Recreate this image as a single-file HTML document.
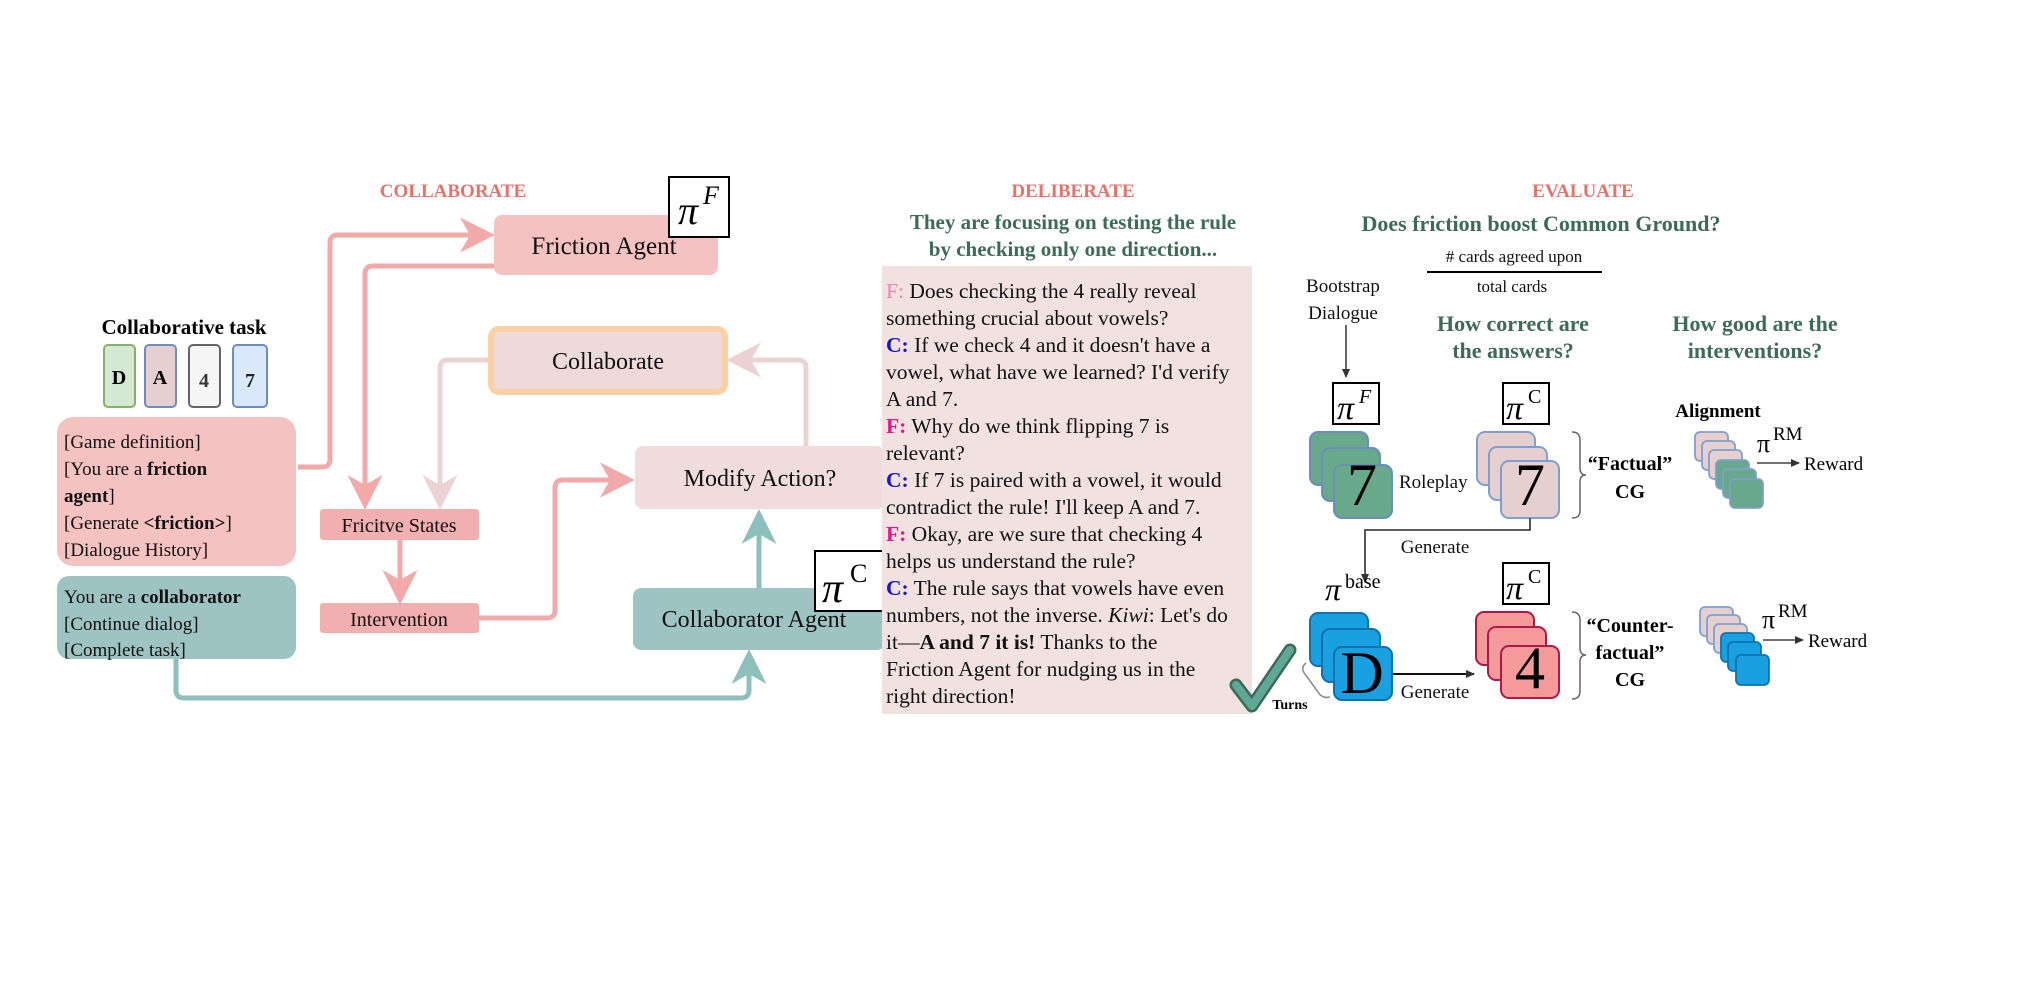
<!DOCTYPE html>
<html><head><meta charset="utf-8"><style>
html,body{margin:0;padding:0;background:#fff;}
svg{display:block;font-family:"Liberation Serif",serif;}
</style></head><body>
<svg width="2017" height="984" viewBox="0 0 2017 984" xmlns="http://www.w3.org/2000/svg">
<defs>
<marker id="ap" markerWidth="8" markerHeight="8" refX="6" refY="4" orient="auto" markerUnits="strokeWidth"><path d="M0,0.5 L7,4 L0,7.5 L2,4 Z" fill="#f2a9a9"/></marker>
<marker id="al" markerWidth="8" markerHeight="8" refX="6" refY="4" orient="auto" markerUnits="strokeWidth"><path d="M0,0.5 L7,4 L0,7.5 L2,4 Z" fill="#ecd3d3"/></marker>
<marker id="at" markerWidth="8" markerHeight="8" refX="6" refY="4" orient="auto" markerUnits="strokeWidth"><path d="M0,0.5 L7,4 L0,7.5 L2,4 Z" fill="#8dc0bd"/></marker>
<marker id="ak" markerWidth="10" markerHeight="10" refX="8" refY="5" orient="auto" markerUnits="userSpaceOnUse"><path d="M0,1 L9,5 L0,9 Z" fill="#333"/></marker>
</defs>

<!-- COLLABORATE section -->
<text x="453" y="197" font-size="19" font-weight="bold" fill="#e8726a" text-anchor="middle">COLLABORATE</text>

<path d="M298,467 H322 Q330,467 330,459 V243 Q330,235 338,235 H490" fill="none" stroke="#f2a9a9" stroke-width="5" marker-end="url(#ap)"/>
<path d="M494,266 H373 Q365,266 365,274 V505" fill="none" stroke="#f2a9a9" stroke-width="5" marker-end="url(#ap)"/>
<path d="M489,360 H448 Q440,360 440,368 V505" fill="none" stroke="#ecd3d3" stroke-width="5" marker-end="url(#al)"/>
<path d="M400,540 V600" fill="none" stroke="#f2a9a9" stroke-width="5" marker-end="url(#ap)"/>
<path d="M479,618 H547 Q555,618 555,610 V488 Q555,480 563,480 H630" fill="none" stroke="#f2a9a9" stroke-width="5" marker-end="url(#ap)"/>
<path d="M806,446 V368 Q806,360 798,360 H731" fill="none" stroke="#ecd3d3" stroke-width="5" marker-end="url(#al)"/>
<path d="M759,588 V514" fill="none" stroke="#8dc0bd" stroke-width="5" marker-end="url(#at)"/>
<path d="M176,659 V690 Q176,698 184,698 H741 Q749,698 749,690 V654" fill="none" stroke="#8dc0bd" stroke-width="5" marker-end="url(#at)"/>

<rect x="494" y="215" width="224" height="60" rx="8" fill="#f5c2c2"/>
<text x="604" y="254" font-size="25" text-anchor="middle" fill="#111">Friction Agent</text>
<rect x="669" y="177" width="60" height="60" fill="#fff" stroke="#000" stroke-width="2"/>
<text x="678" y="224" font-size="40" font-style="italic" fill="#000">π</text>
<text x="703" y="204" font-size="26" font-style="italic" fill="#000">F</text>

<text x="184" y="334" font-size="21" font-weight="bold" text-anchor="middle" fill="#000">Collaborative task</text>
<rect x="104" y="345" width="31" height="62" rx="4" fill="#d5e8d4" stroke="#82b366" stroke-width="2"/>
<text x="119" y="384" font-size="20" font-weight="bold" text-anchor="middle">D</text>
<rect x="145" y="345" width="31" height="62" rx="4" fill="#e6cfd1" stroke="#6c8ebf" stroke-width="2"/>
<text x="160" y="384" font-size="20" font-weight="bold" text-anchor="middle">A</text>
<rect x="189" y="345" width="31" height="62" rx="4" fill="#f5f5f5" stroke="#666" stroke-width="2"/>
<text x="204" y="387" font-size="20" font-weight="bold" text-anchor="middle" fill="#333">4</text>
<rect x="233" y="345" width="34" height="62" rx="4" fill="#dae8fc" stroke="#6c8ebf" stroke-width="2"/>
<text x="250" y="387" font-size="20" font-weight="bold" text-anchor="middle" fill="#222">7</text>

<rect x="57" y="417" width="239" height="149" rx="16" fill="#f5c2c2"/>
<g font-size="19" fill="#111">
<text x="64" y="448">[Game definition]</text>
<text x="64" y="475">[You are a <tspan font-weight="bold">friction</tspan></text>
<text x="64" y="502"><tspan font-weight="bold">agent</tspan>]</text>
<text x="64" y="529">[Generate <tspan font-weight="bold">&lt;friction&gt;</tspan>]</text>
<text x="64" y="556">[Dialogue History]</text>
</g>
<rect x="57" y="576" width="239" height="83" rx="12" fill="#9dc4c3"/>
<g font-size="19" fill="#111">
<text x="64" y="603">You are a <tspan font-weight="bold">collaborator</tspan></text>
<text x="64" y="630">[Continue dialog]</text>
<text x="64" y="656">[Complete task]</text>
</g>

<rect x="320" y="509" width="159" height="31" rx="3" fill="#f2afaf"/>
<text x="399" y="532" font-size="20" text-anchor="middle" fill="#111">Fricitve States</text>
<rect x="320" y="603" width="159" height="30" rx="3" fill="#f2afaf"/>
<text x="399" y="626" font-size="20" text-anchor="middle" fill="#111">Intervention</text>

<rect x="491" y="329" width="234" height="63" rx="8" fill="#eedada" stroke="#fbd0a4" stroke-width="6"/>
<text x="608" y="369" font-size="24" text-anchor="middle" fill="#111">Collaborate</text>

<rect x="635" y="446" width="250" height="63" rx="8" fill="#f0dcdc"/>
<text x="760" y="486" font-size="24" text-anchor="middle" fill="#111">Modify Action?</text>

<rect x="633" y="588" width="252" height="62" rx="8" fill="#9dc4c3"/>
<text x="754" y="627" font-size="24" text-anchor="middle" fill="#111">Collaborator Agent</text>
<rect x="815" y="551" width="70" height="60" fill="#fff" stroke="#000" stroke-width="2"/>
<text x="822" y="602" font-size="42" font-style="italic" fill="#000">π</text>
<text x="850" y="582" font-size="26" fill="#000">C</text>

<!-- DELIBERATE -->
<text x="1073" y="197" font-size="19" font-weight="bold" fill="#e8726a" text-anchor="middle">DELIBERATE</text>
<text x="1073" y="229" font-size="21" font-weight="bold" fill="#3d6b57" text-anchor="middle">They are focusing on testing the rule</text>
<text x="1073" y="256" font-size="21" font-weight="bold" fill="#3d6b57" text-anchor="middle">by checking only one direction...</text>
<rect x="882" y="266" width="370" height="448" fill="#f2e1e1"/>
<g font-size="21.5" fill="#111">
<text x="886" y="298"><tspan fill="#f080b0">F:</tspan> Does checking the 4 really reveal</text>
<text x="886" y="325">something crucial about vowels?</text>
<text x="886" y="352"><tspan fill="#1515d0" font-weight="bold">C:</tspan> If we check 4 and it doesn't have a</text>
<text x="886" y="379">vowel, what have we learned? I'd verify</text>
<text x="886" y="406">A and 7.</text>
<text x="886" y="433"><tspan fill="#ee1188" font-weight="bold">F:</tspan> Why do we think flipping 7 is</text>
<text x="886" y="460">relevant?</text>
<text x="886" y="487"><tspan fill="#1515d0" font-weight="bold">C:</tspan> If 7 is paired with a vowel, it would</text>
<text x="886" y="514">contradict the rule! I'll keep A and 7.</text>
<text x="886" y="541"><tspan fill="#ee1188" font-weight="bold">F:</tspan> Okay, are we sure that checking 4</text>
<text x="886" y="568">helps us understand the rule?</text>
<text x="886" y="595"><tspan fill="#1515d0" font-weight="bold">C:</tspan> The rule says that vowels have even</text>
<text x="886" y="622">numbers, not the inverse. <tspan font-style="italic">Kiwi</tspan>: Let's do</text>
<text x="886" y="649">it—<tspan font-weight="bold">A and 7  it is!</tspan> Thanks to the</text>
<text x="886" y="676">Friction Agent for nudging us in the</text>
<text x="886" y="703">right direction!</text>
</g>
<path d="M1236,685 L1252,706 L1290,650" fill="none" stroke="#3d6b57" stroke-width="13" stroke-linecap="round" stroke-linejoin="round"/>
<path d="M1236,685 L1252,706 L1290,650" fill="none" stroke="#5fa898" stroke-width="8" stroke-linecap="round" stroke-linejoin="round"/>

<!-- EVALUATE -->
<text x="1583" y="197" font-size="19" font-weight="bold" fill="#e8726a" text-anchor="middle">EVALUATE</text>
<text x="1541" y="231" font-size="22" font-weight="bold" fill="#3d6b57" text-anchor="middle">Does friction boost Common Ground?</text>
<text x="1514" y="262" font-size="17" text-anchor="middle" fill="#111"># cards agreed upon</text>
<line x1="1427" y1="272" x2="1602" y2="272" stroke="#000" stroke-width="2"/>
<text x="1512" y="292" font-size="17" text-anchor="middle" fill="#111">total cards</text>
<text x="1343" y="292" font-size="19" text-anchor="middle" fill="#111">Bootstrap</text>
<text x="1343" y="319" font-size="19" text-anchor="middle" fill="#111">Dialogue</text>
<path d="M1346,325 V377" stroke="#333" stroke-width="1.5" marker-end="url(#ak)" fill="none"/>
<text x="1513" y="331" font-size="22" font-weight="bold" text-anchor="middle" fill="#3d6b57">How correct are</text>
<text x="1513" y="358" font-size="22" font-weight="bold" text-anchor="middle" fill="#3d6b57">the answers?</text>
<text x="1755" y="331" font-size="22" font-weight="bold" text-anchor="middle" fill="#3d6b57">How good are the</text>
<text x="1755" y="358" font-size="22" font-weight="bold" text-anchor="middle" fill="#3d6b57">interventions?</text>

<!-- pi boxes -->
<rect x="1333" y="383" width="46" height="41" fill="#fff" stroke="#000" stroke-width="2"/>
<text x="1337" y="419" font-size="34" font-style="italic">π</text>
<text x="1359" y="403" font-size="20" font-style="italic">F</text>
<rect x="1503" y="383" width="46" height="41" fill="#fff" stroke="#000" stroke-width="2"/>
<text x="1506" y="419" font-size="34" font-style="italic">π</text>
<text x="1528" y="403" font-size="20">C</text>
<rect x="1503" y="563" width="46" height="41" fill="#fff" stroke="#000" stroke-width="2"/>
<text x="1506" y="599" font-size="34" font-style="italic">π</text>
<text x="1528" y="583" font-size="20">C</text>

<!-- green stack -->
<g stroke="#6c8ebf" stroke-width="2" fill="#67a98a">
<rect x="1310" y="432" width="58" height="53" rx="8"/>
<rect x="1322" y="448" width="58" height="53" rx="8"/>
<rect x="1334" y="465" width="58" height="53" rx="8"/>
</g>
<text x="1362" y="505" font-size="60" text-anchor="middle">7</text>
<text x="1399" y="488" font-size="19" fill="#111">Roleplay</text>
<!-- pink stack -->
<g stroke="#7f9fcf" stroke-width="2" fill="#e6cfcf">
<rect x="1477" y="432" width="58" height="53" rx="8"/>
<rect x="1489" y="447" width="58" height="53" rx="8"/>
<rect x="1501" y="461" width="58" height="57" rx="8"/>
</g>
<text x="1530" y="505" font-size="60" text-anchor="middle">7</text>
<!-- braces -->
<path d="M1572,432 Q1580,432 1580,440 V468 Q1580,475 1586,475 Q1580,475 1580,482 V511 Q1580,518 1572,518" fill="none" stroke="#666" stroke-width="1.5"/>
<path d="M1572,612 Q1580,612 1580,620 V648 Q1580,655 1586,655 Q1580,655 1580,662 V691 Q1580,699 1572,699" fill="none" stroke="#666" stroke-width="1.5"/>
<text x="1630" y="470" font-size="20" font-weight="bold" text-anchor="middle">“Factual”</text>
<text x="1630" y="498" font-size="20" font-weight="bold" text-anchor="middle">CG</text>
<text x="1630" y="632" font-size="20" font-weight="bold" text-anchor="middle">“Counter-</text>
<text x="1630" y="659" font-size="20" font-weight="bold" text-anchor="middle">factual”</text>
<text x="1630" y="686" font-size="20" font-weight="bold" text-anchor="middle">CG</text>

<!-- generate connector -->
<path d="M1530,518 V530 H1365 V582" fill="none" stroke="#444" stroke-width="1.8" marker-end="url(#ak)"/>
<text x="1435" y="553" font-size="19" text-anchor="middle" fill="#111">Generate</text>
<text x="1325" y="600" font-size="32" font-style="italic">π</text>
<text x="1345" y="588" font-size="20">base</text>

<!-- blue stack -->
<g stroke="#0e72b0" stroke-width="2" fill="#18a0e0">
<rect x="1310" y="613" width="58" height="53" rx="8"/>
<rect x="1322" y="629" width="58" height="53" rx="8"/>
<rect x="1334" y="647" width="58" height="53" rx="8"/>
</g>
<text x="1362" y="693" font-size="60" text-anchor="middle">D</text>
<path d="M1393,674 H1474" stroke="#111" stroke-width="2" marker-end="url(#ak)" fill="none"/>
<text x="1435" y="698" font-size="19" text-anchor="middle" fill="#111">Generate</text>
<!-- red stack -->
<g stroke="#b0184a" stroke-width="2" fill="#f59a9a">
<rect x="1476" y="612" width="58" height="53" rx="8"/>
<rect x="1488" y="627" width="58" height="53" rx="8"/>
<rect x="1501" y="646" width="58" height="52" rx="8"/>
</g>
<text x="1530" y="688" font-size="60" text-anchor="middle">4</text>
<!-- turns -->
<path d="M1306,663 Q1300,668 1305,674 L1318,692 Q1322,699 1330,697" fill="none" stroke="#888" stroke-width="1.5"/>
<text x="1290" y="709" font-size="14" font-weight="bold" text-anchor="middle">Turns</text>

<!-- alignment -->
<text x="1718" y="417" font-size="19" font-weight="bold" text-anchor="middle">Alignment</text>
<g stroke="#7f9fcf" stroke-width="1.8">
<rect x="1695" y="432" width="33" height="29" rx="5" fill="#e6cfcf"/>
<rect x="1702" y="441" width="33" height="29" rx="5" fill="#e6cfcf"/>
<rect x="1709" y="450" width="33" height="29" rx="5" fill="#e6cfcf"/>
<rect x="1716" y="460" width="33" height="29" rx="5" fill="#67a98a"/>
<rect x="1723" y="469" width="33" height="29" rx="5" fill="#67a98a"/>
<rect x="1730" y="479" width="33" height="29" rx="5" fill="#67a98a"/>
</g>
<text x="1757" y="452" font-size="26">π</text>
<text x="1773" y="440" font-size="19">RM</text>
<path d="M1757,463 H1799" stroke="#444" stroke-width="1.5" marker-end="url(#ak)" fill="none"/>
<text x="1804" y="470" font-size="19">Reward</text>

<g stroke="#7f9fcf" stroke-width="1.8">
<rect x="1700" y="607" width="33" height="29" rx="5" fill="#e6cfcf"/>
<rect x="1707" y="615" width="33" height="29" rx="5" fill="#e6cfcf"/>
<rect x="1714" y="624" width="33" height="29" rx="5" fill="#e6cfcf"/>
</g>
<g stroke="#0e72b0" stroke-width="1.8" fill="#18a0e0">
<rect x="1721" y="633" width="33" height="29" rx="5"/>
<rect x="1728" y="642" width="33" height="29" rx="5"/>
<rect x="1736" y="655" width="33" height="30" rx="5"/>
</g>
<text x="1762" y="628" font-size="26">π</text>
<text x="1778" y="617" font-size="19">RM</text>
<path d="M1763,640 H1803" stroke="#444" stroke-width="1.5" marker-end="url(#ak)" fill="none"/>
<text x="1808" y="647" font-size="19">Reward</text>
</svg>
</body></html>
